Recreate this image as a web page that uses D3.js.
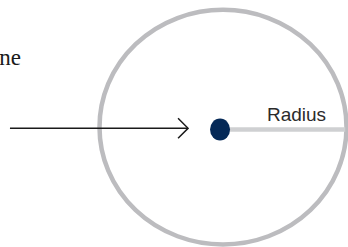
<!DOCTYPE html>
<html>
<head>
<meta charset="utf-8">
<script src="https://cdn.jsdelivr.net/npm/d3@7"></script>
<style>
  html, body { margin: 0; padding: 0; background: #fff; }
  svg { display: block; }
</style>
</head>
<body>
<div id="chart"></div>
<script>
// Diagram values in circle units (centre = 0,0, radius = 1)
const circles = [{ cx: 0, cy: 0, r: 1 }];
const centrePoint = [{ x: -0.024, y: -0.02 }];
const radiusLine = [{ x1: -0.024, y1: -0.02, x2: 0.99, y2: -0.02 }];
const arrowLine = [{ x1: -1.725, y1: -0.01, x2: -0.283, y2: -0.01 }];
const labels = [
  { text: 'Line', x: -1.636, y: 0.53, anchor: 'end', kind: 'serif' },
  { text: 'Radius', x: 0.356, y: 0.052, anchor: 'start', kind: 'sans' }
];

const width = 348;
const height = 247;

const svg = d3.select('#chart')
  .append('svg')
  .attr('width', width)
  .attr('height', height);

// Scales map circle units to pixels
const x = d3.scaleLinear().domain([-1, 1]).range([99.5, 346.5]);
const y = d3.scaleLinear().domain([-1, 1]).range([244.5, 9.8]);

// Arrow marker (open chevron)
svg.append('defs').append('marker')
  .attr('id', 'chev')
  .attr('viewBox', '0 0 12 22')
  .attr('refX', 11)
  .attr('refY', 11)
  .attr('markerUnits', 'userSpaceOnUse')
  .attr('markerWidth', 12)
  .attr('markerHeight', 22)
  .attr('orient', 'auto')
  .append('path')
  .attr('d', 'M1,1 L11,11 L1,21')
  .attr('fill', 'none')
  .attr('stroke', '#1a1a1a')
  .attr('stroke-width', 1.5);

// Outer circle
svg.selectAll('ellipse.outer')
  .data(circles)
  .enter()
  .append('ellipse')
  .attr('class', 'outer')
  .attr('cx', d => x(d.cx))
  .attr('cy', d => y(d.cy))
  .attr('rx', d => x(d.r) - x(d.cx))
  .attr('ry', d => y(d.cy) - y(d.r))
  .attr('fill', 'none')
  .attr('stroke', '#bcbcbf')
  .attr('stroke-width', 4.5);

// Radius line
svg.selectAll('line.radius')
  .data(radiusLine)
  .enter()
  .append('line')
  .attr('class', 'radius')
  .attr('x1', d => x(d.x1))
  .attr('y1', d => y(d.y1))
  .attr('x2', d => x(d.x2))
  .attr('y2', d => y(d.y2))
  .attr('stroke', '#cfd0d2')
  .attr('stroke-width', 4.5);

// Arrow pointing at the centre
svg.selectAll('line.arrow')
  .data(arrowLine)
  .enter()
  .append('line')
  .attr('class', 'arrow')
  .attr('x1', d => x(d.x1))
  .attr('y1', d => y(d.y1))
  .attr('x2', d => x(d.x2))
  .attr('y2', d => y(d.y2))
  .attr('stroke', '#1a1a1a')
  .attr('stroke-width', 1.5)
  .attr('marker-end', 'url(#chev)');

// Centre point
svg.selectAll('ellipse.centre')
  .data(centrePoint)
  .enter()
  .append('ellipse')
  .attr('class', 'centre')
  .attr('cx', d => x(d.x))
  .attr('cy', d => y(d.y))
  .attr('rx', 10)
  .attr('ry', 11)
  .attr('fill', '#052957');

// Labels
svg.selectAll('text.label')
  .data(labels)
  .enter()
  .append('text')
  .attr('class', 'label')
  .attr('x', d => x(d.x))
  .attr('y', d => y(d.y))
  .attr('text-anchor', d => d.anchor)
  .style('font-family', d => d.kind === 'serif' ? "'Liberation Serif', 'DejaVu Serif', serif" : "'Liberation Sans', Arial, sans-serif")
  .style('font-size', d => d.kind === 'serif' ? '23px' : '19px')
  .style('fill', d => d.kind === 'serif' ? '#1a1a1a' : '#2b2b2b')
  .text(d => d.text);
</script>
</body>
</html>
